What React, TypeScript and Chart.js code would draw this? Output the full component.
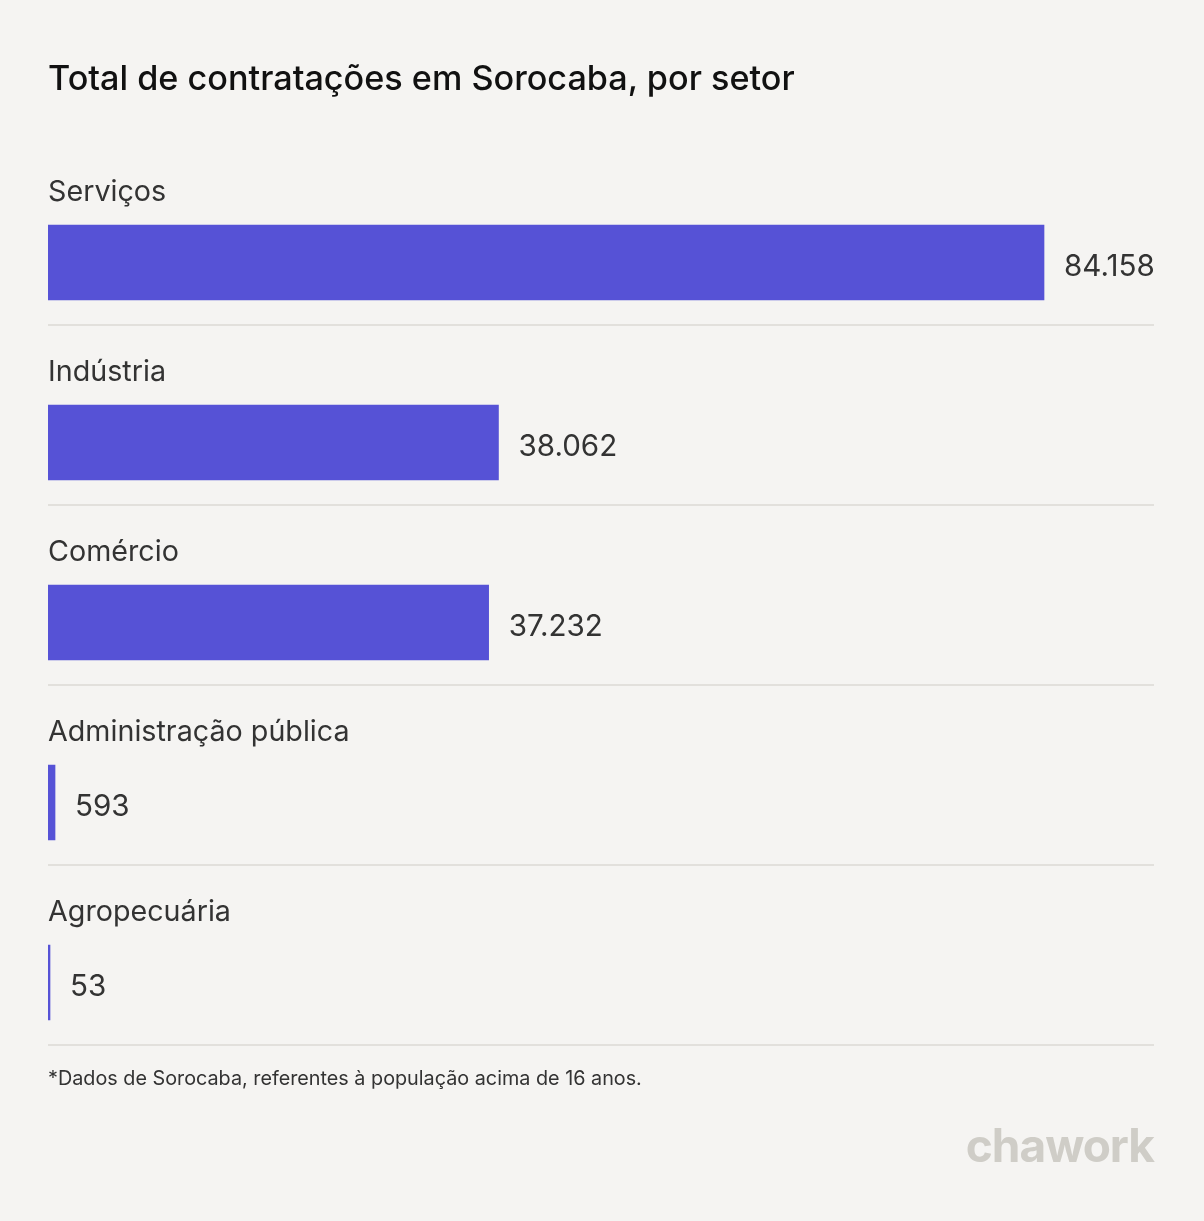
import React, { useEffect, useRef } from "react";
import { Chart, registerables } from "chart.js";

Chart.register(...registerables);

const categories = ["Serviços", "Indústria", "Comércio", "Administração pública", "Agropecuária"];
const values = [84158, 38062, 37232, 593, 53];
const titleText = "Total de contratações em Sorocaba, por setor";
const footnoteText = "*Dados de Sorocaba, referentes à população acima de 16 anos.";
const brandText = "chawork";

const BG = "#f5f4f2";
const BAR = "#5652d6";
const TEXT = "#333333";
const FONT = "Inter, 'Noto Sans', sans-serif";

function fmt(n: number): string {
  return String(n).replace(/\B(?=(\d{3})+(?!\d))/g, ".");
}

const labelPlugin = {
  id: "rowLabels",
  afterDatasetsDraw(chart: any) {
    const ctx = chart.ctx;
    const meta = chart.getDatasetMeta(0);
    const area = chart.chartArea;
    ctx.save();
    meta.data.forEach((bar: any, i: number) => {
      const y = bar.y;
      // separator
      ctx.fillStyle = "#e2e0dc";
      ctx.fillRect(area.left, Math.round(y + 61.5), area.right - area.left, 2);
      // category label
      ctx.fillStyle = TEXT;
      ctx.textBaseline = "middle";
      ctx.textAlign = "left";
      ctx.font = `400 28.7px ${FONT}`;
      ctx.fillText(categories[i], area.left, y - 70.5);
      // value label
      ctx.font = `400 29.6px ${FONT}`;
      ctx.fillText(fmt(values[i]), bar.x + 20, y + 5);
    });
    ctx.restore();
  },
};

export default function App() {
  const ref = useRef<HTMLCanvasElement | null>(null);
  useEffect(() => {
    if (!ref.current) return;
    const chart = new Chart(ref.current, {
      type: "bar",
      data: {
        labels: categories,
        datasets: [
          {
            data: values,
            backgroundColor: BAR,
            borderWidth: 0,
            barThickness: 75,
            minBarLength: 2,
          },
        ],
      },
      options: {
        indexAxis: "y",
        responsive: false,
        animation: false,
        layout: { padding: { left: 48, right: 50, top: 172.5, bottom: 148.5 } },
        plugins: { legend: { display: false }, tooltip: { enabled: false } },
        scales: {
          x: { display: false, min: 0, max: 93452 },
          y: { display: false, offset: true },
        },
      },
      plugins: [labelPlugin],
    });
    return () => chart.destroy();
  }, []);

  return (
    <div
      style={{
        position: "absolute",
        left: 0,
        top: 0,
        width: 1204,
        height: 1221,
        background: BG,
        fontFamily: FONT,
        overflow: "hidden",
      }}
    >
      <canvas ref={ref} width={1204} height={1221} style={{ position: "absolute", left: 0, top: 0 }} />
      <div
        style={{
          position: "absolute",
          left: 48,
          top: 56,
          fontSize: 34.2,
          fontWeight: 500,
          color: "#111111",
          lineHeight: "44px",
          whiteSpace: "nowrap",
        }}
      >
        {titleText}
      </div>
      <div
        style={{
          position: "absolute",
          left: 48,
          top: 1065,
          fontSize: 19.8,
          color: TEXT,
          lineHeight: "26px",
          whiteSpace: "nowrap",
        }}
      >
        {footnoteText}
      </div>
      <div
        style={{
          position: "absolute",
          right: 50,
          top: 1115,
          fontSize: 46,
          fontWeight: 700,
          color: "#cfcdc7",
          lineHeight: "60px",
          letterSpacing: -1,
          whiteSpace: "nowrap",
        }}
      >
        {brandText}
      </div>
    </div>
  );
}
